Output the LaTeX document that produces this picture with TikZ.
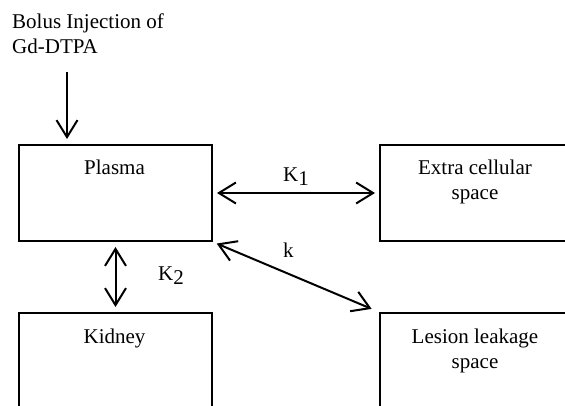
\documentclass[tikz,border=0pt]{standalone}
\usepackage{fontspec}
\setmainfont{Liberation Serif}
\usetikzlibrary{arrows.meta}
\tikzset{
  box/.style={draw, line width=2pt, minimum width=193pt, minimum height=96pt, inner sep=0pt, anchor=north west},
  txt/.style={inner sep=0pt, font=\fontsize{21}{25}\selectfont},
  tip/.style={Straight Barb[length=17pt,width=21pt,line width=2pt]},
  conn/.style={line width=2pt, {Straight Barb[length=17pt,width=21pt,line width=2pt]}-{Straight Barb[length=17pt,width=21pt,line width=2pt]}},
  oneway/.style={line width=2pt, -{Straight Barb[length=17pt,width=21pt,line width=2pt]}}
}
\newcommand{\mysub}[1]{\raisebox{-4pt}{#1}}
\begin{document}
\begin{tikzpicture}[x=1pt,y=-1pt]
\useasboundingbox (0,0) rectangle (565,406);
\clip (0,0) rectangle (565,406);
\node[box] (plasma) at (18,144) {};
\node[box] (extra) at (379,144) {};
\node[box] (kidney) at (18,312) {};
\node[box] (lesion) at (379,312) {};
\node[txt, anchor=base] (tplasma) at (114.5,175) {Plasma};
\node[txt, anchor=base] (tkidney) at (114.5,343) {Kidney};
\node[txt, anchor=base, align=center] (textra) at (475,200) {Extra cellular\\space};
\node[txt, anchor=base, align=center] (tlesion) at (475,368) {Lesion leakage\\space};
\node[txt, anchor=base west, align=left] (bolus) at (12,54) {Bolus Injection of\\Gd-DTPA};
\coordinate (inj) at (67,72);
\draw[oneway, shorten >=5pt] (inj) -- (inj |- plasma.north);
\draw[conn, shorten <=4pt, shorten >=4pt] (plasma.east) -- (extra.west);
\draw[conn, shorten <=5pt, shorten >=5pt] (plasma.south) -- (kidney.north);
\draw[conn, shorten <=4pt, shorten >=8pt] (plasma.south east) -- (lesion.north west);
\node[txt, anchor=base west] (k1) at (283,182) {K\mysub{1}};
\node[txt, anchor=base west] (k2) at (158,280) {K\mysub{2}};
\node[txt, anchor=base west] (k) at (283,258) {k};
\end{tikzpicture}
\end{document}
